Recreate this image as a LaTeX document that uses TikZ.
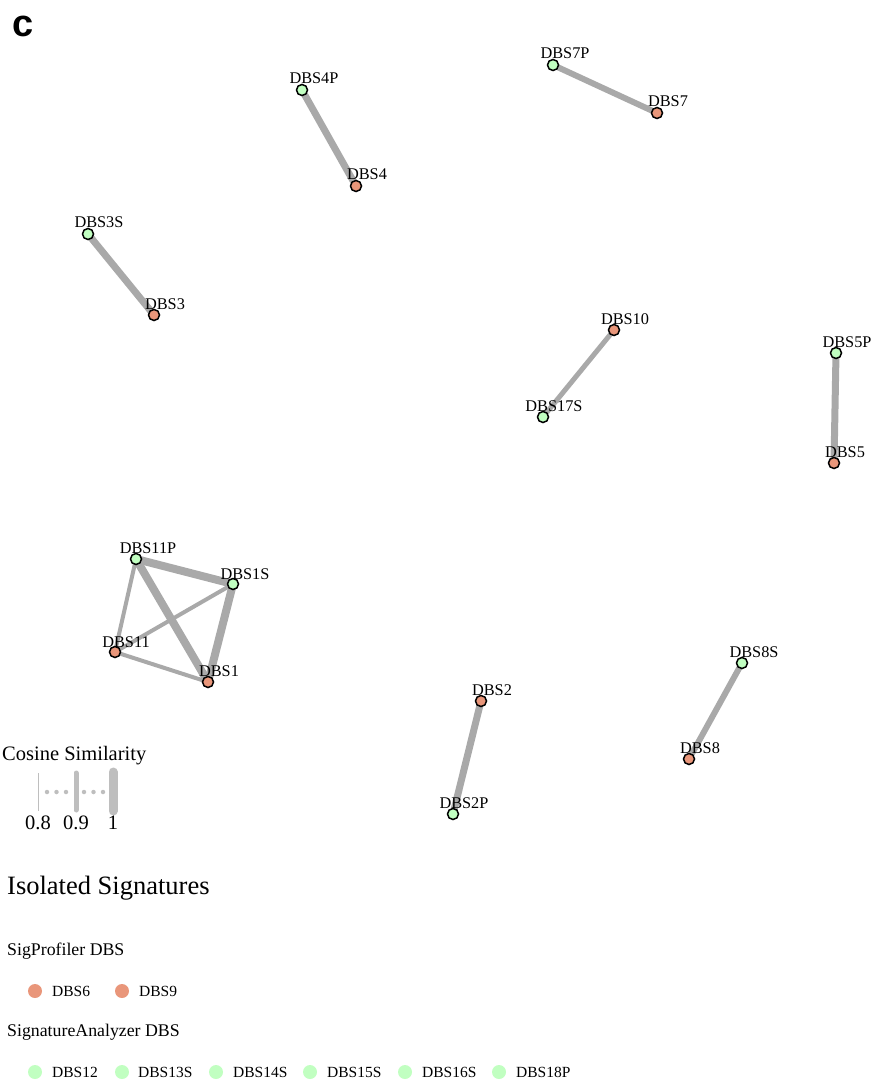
\documentclass[tikz,border=0pt]{standalone}
\usepackage{fontspec}
\setmainfont{Liberation Serif}
\newfontfamily\panelfont{Liberation Sans}
\usetikzlibrary{backgrounds}
\definecolor{sp}{RGB}{233,150,122}
\definecolor{sa}{RGB}{193,255,193}
\definecolor{edge}{RGB}{169,169,169}
\definecolor{leg}{RGB}{190,190,190}
\tikzset{
  sig/.style={circle, draw=black, line width=1.5pt, minimum size=11pt, inner sep=0pt},
  spn/.style={sig, fill=sp},
  san/.style={sig, fill=sa},
  lab/.style={anchor=base, font=\fontsize{16.3}{16.3}\selectfont, inner sep=0pt},
  e/.style={draw=edge, line width=#1},
  legdot/.style={circle, inner sep=0pt, minimum size=14pt},
  legtxt/.style={anchor=base west, font=\fontsize{15.5}{15.5}\selectfont, inner sep=0pt},
  hdr/.style={anchor=base west, font=\fontsize{17.8}{17.8}\selectfont, inner sep=0pt},
  legdots/.style={leg, line width=4.5pt, line cap=round, dash pattern=on 0pt off 9.5pt},
}
\begin{document}
\begin{tikzpicture}[x=1pt, y=-1pt]
\useasboundingbox (0,0) rectangle (880,1083);
\node[anchor=base west, inner sep=0pt, font=\panelfont\bfseries\fontsize{38}{38}\selectfont] (panel) at (12,37) {c};

% signature nodes
\node[san] (n7P) at (553,65) {};
\node[spn] (n7) at (657,113) {};
\node[san] (n4P) at (302,90) {};
\node[spn] (n4) at (356,186) {};
\node[san] (n3S) at (88,234) {};
\node[spn] (n3) at (154,315) {};
\node[spn] (n10) at (614,330) {};
\node[san] (n17S) at (543,417) {};
\node[san] (n5P) at (836,353) {};
\node[spn] (n5) at (834,463) {};
\node[san] (n11P) at (136,559) {};
\node[san] (n1S) at (233,584) {};
\node[spn] (n11) at (115,652) {};
\node[spn] (n1) at (208,682) {};
\node[spn] (n2) at (481,701) {};
\node[san] (n2P) at (453,814) {};
\node[san] (n8S) at (742,663) {};
\node[spn] (n8) at (689,759) {};

% labels
\node[lab] (l7P) at (565,59) {DBS7P};
\node[lab] (l7) at (668,107) {DBS7};
\node[lab] (l4P) at (314,84) {DBS4P};
\node[lab] (l4) at (367,180) {DBS4};
\node[lab] (l3S) at (99,228) {DBS3S};
\node[lab] (l3) at (165,309) {DBS3};
\node[lab] (l10) at (625,324) {DBS10};
\node[lab] (l17S) at (554,411) {DBS17S};
\node[lab] (l5P) at (847,347) {DBS5P};
\node[lab] (l5) at (845,457) {DBS5};
\node[lab] (l11P) at (148,553) {DBS11P};
\node[lab] (l1S) at (245,579) {DBS1S};
\node[lab] (l11) at (126,647) {DBS11};
\node[lab] (l1) at (219,676) {DBS1};
\node[lab] (l2) at (492,695) {DBS2};
\node[lab] (l2P) at (464,808) {DBS2P};
\node[lab] (l8S) at (754,657) {DBS8S};
\node[lab] (l8) at (700,753) {DBS8};

% edges
\begin{scope}[on background layer]
\draw[e=6pt] (n7P.center) -- (n7.center);
\draw[e=7pt] (n4P.center) -- (n4.center);
\draw[e=7pt] (n3S.center) -- (n3.center);
\draw[e=5pt] (n10.center) -- (n17S.center);
\draw[e=7pt] (n5P.center) -- (n5.center);
\draw[e=7pt] (n2.center) -- (n2P.center);
\draw[e=6pt] (n8S.center) -- (n8.center);
\draw[e=8pt] (n11P.center) -- (n1S.center);
\draw[e=8pt] (n11P.center) -- (n1.center);
\draw[e=8pt] (n1S.center) -- (n1.center);
\draw[e=4pt] (n11P.center) -- (n11.center);
\draw[e=4pt] (n11.center) -- (n1.center);
\draw[e=4pt] (n11.center) -- (n1S.center);
\end{scope}

% cosine similarity legend
\node[anchor=base west, inner sep=0pt, font=\fontsize{20.5}{20.5}\selectfont] (cstitle) at (2,760) {Cosine Similarity};
\coordinate (b1t) at (38,773); \coordinate (b1b) at (38,811);
\coordinate (b2t) at (76,773); \coordinate (b2b) at (76,810);
\coordinate (b3t) at (113,772); \coordinate (b3b) at (113,811);
\coordinate (d1a) at (47,792); \coordinate (d1b) at (68,792);
\coordinate (d2a) at (84,792); \coordinate (d2b) at (105,792);
\draw[leg, line width=1pt] (b1t) -- (b1b);
\draw[leg, line width=5pt, line cap=round] (b2t) -- (b2b);
\draw[leg, line width=9pt, line cap=round] (b3t) -- (b3b);
\draw[legdots] (d1a) -- (d1b);
\draw[legdots] (d2a) -- (d2b);
\node[anchor=base, inner sep=0pt, font=\fontsize{20.5}{20.5}\selectfont] (t08) at (38,829) {0.8};
\node[anchor=base, inner sep=0pt, font=\fontsize{20.5}{20.5}\selectfont] (t09) at (76,829) {0.9};
\node[anchor=base, inner sep=0pt, font=\fontsize{20.5}{20.5}\selectfont] (t1) at (113,829) {1};

% isolated signatures
\node[anchor=base west, inner sep=0pt, font=\fontsize{26.5}{26.5}\selectfont] (iso) at (7,894) {Isolated Signatures};
\node[hdr] (hsp) at (7,955) {SigProfiler DBS};
\node[legdot, fill=sp] (i6) at (35,991) {};
\node[legtxt] (t6) at (52,996) {DBS6};
\node[legdot, fill=sp] (i9) at (122,991) {};
\node[legtxt] (t9) at (139,996) {DBS9};
\node[hdr] (hsa) at (7,1036) {SignatureAnalyzer DBS};
\node[legdot, fill=sa] (i12) at (35,1072) {};
\node[legtxt] (t12) at (52,1077) {DBS12};
\node[legdot, fill=sa] (i13) at (122,1072) {};
\node[legtxt] (t13) at (138,1077) {DBS13S};
\node[legdot, fill=sa] (i14) at (216,1072) {};
\node[legtxt] (t14) at (233,1077) {DBS14S};
\node[legdot, fill=sa] (i15) at (310,1072) {};
\node[legtxt] (t15) at (327,1077) {DBS15S};
\node[legdot, fill=sa] (i16) at (405,1072) {};
\node[legtxt] (t16) at (422,1077) {DBS16S};
\node[legdot, fill=sa] (i18) at (499,1072) {};
\node[legtxt] (t18) at (516,1077) {DBS18P};
\end{tikzpicture}
\end{document}
